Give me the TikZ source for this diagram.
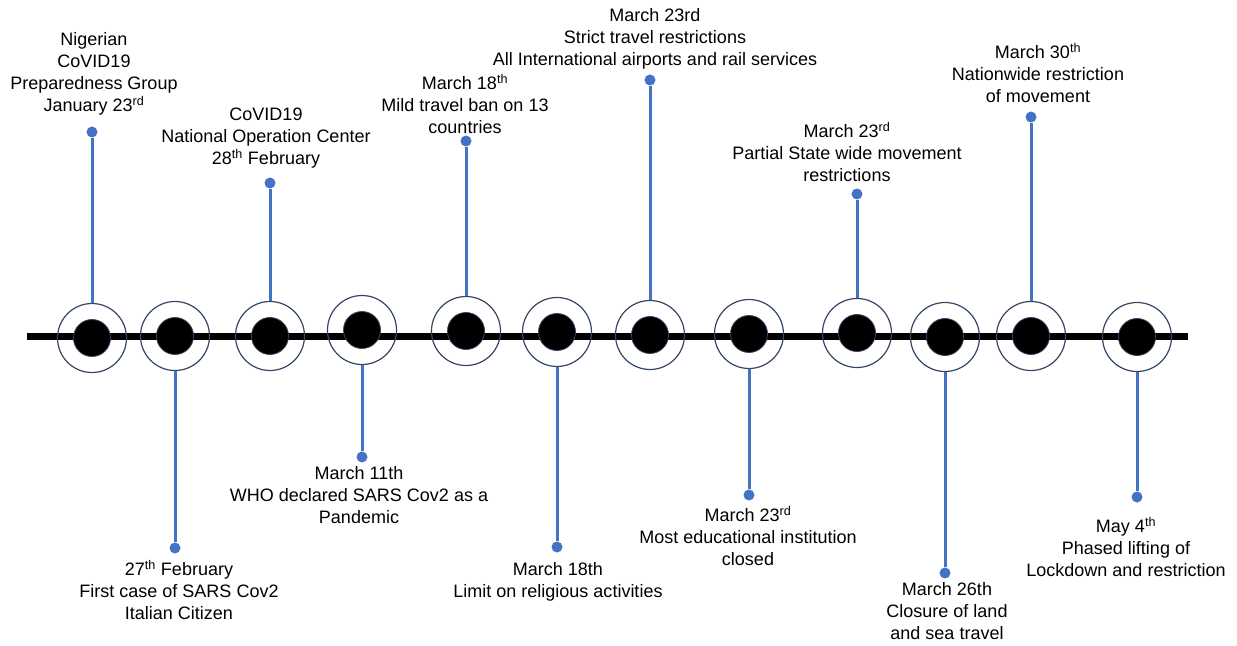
\documentclass[tikz,border=0pt]{standalone}
\usepackage{fontspec}
\setmainfont{Liberation Sans}
\usetikzlibrary{positioning}
\definecolor{stemblue}{RGB}{68,114,196}
\definecolor{ringgrey}{RGB}{52,70,98}

\begin{document}
\begin{tikzpicture}[x=1bp,y=-1bp,
    ring/.style={circle,draw=ringgrey,line width=1.2bp,minimum size=69bp,inner sep=0pt},
    disc/.style={circle,fill=black,draw=ringgrey,line width=0.8bp,minimum size=37bp,inner sep=0pt},
    pin/.style={circle,fill=stemblue,minimum size=11bp,inner sep=0pt},
    stem/.style={stemblue,line width=3bp},
    event/.style={align=center,inner sep=0pt,font=\fontsize{18.07}{22.1}\selectfont}]
    \useasboundingbox (0,0) rectangle (1237,646);
    % time axis
    \coordinate (axisL) at (27,336);
    \coordinate (axisR) at (1188,336);
    \draw[line width=7bp] (axisL) -- (axisR);
    % rings, pins and stems
    \foreach \n/\x/\y/\py in {1/92/338/132,2/175/336/548,3/270/336/183,4/362/330/457,
                              5/466/331/141,6/557/332/547,7/650/335/80,8/749/334/495,
                              9/857/333/194,10/945/337/573,11/1031/336/117,12/1137/337/497} {
        \node[ring] (r\n) at (\x,\y) {};
        \node[disc] (d\n) at (r\n) {};
        \node[pin] (p\n) at (\x,\py) {};
        \draw[stem] (r\n) -- (p\n);
    }
    % events above the axis
    \node[event] (t1) at (94,74) {Nigerian\\CoVID19\\Preparedness Group\\January 23\textsuperscript{rd}};
    \node[event] (t3) at (266,138) {CoVID19\\National Operation Center\\28\textsuperscript{th} February};
    \node[event] (t5) at (465,104) {March 18\textsuperscript{th}\\Mild travel ban on 13\\countries};
    \node[event] (t7) at (655,39) {March 23rd\\Strict travel restrictions\\All International airports and rail services};
    \node[event] (t9) at (847,152) {March 23\textsuperscript{rd}\\Partial State wide movement\\restrictions};
    \node[event] (t11) at (1038,73) {March 30\textsuperscript{th}\\Nationwide restriction\\of movement};
    % events below the axis
    \node[event] (t2) at (179,590) {27\textsuperscript{th} February\\First case of SARS Cov2\\Italian Citizen};
    \node[event] (t4) at (359,495) {March 11th\\WHO declared SARS Cov2 as a\\Pandemic};
    \node[event] (t6) at (558,582) {March 18th\\Limit on religious activities};
    \node[event] (t8) at (748,536) {March 23\textsuperscript{rd}\\Most educational institution\\closed};
    \node[event] (t10) at (947,611) {March 26th\\Closure of land\\and sea travel};
    \node[event] (t12) at (1126,547) {May 4\textsuperscript{th}\\Phased lifting of\\Lockdown and restriction};
\end{tikzpicture}
\end{document}
